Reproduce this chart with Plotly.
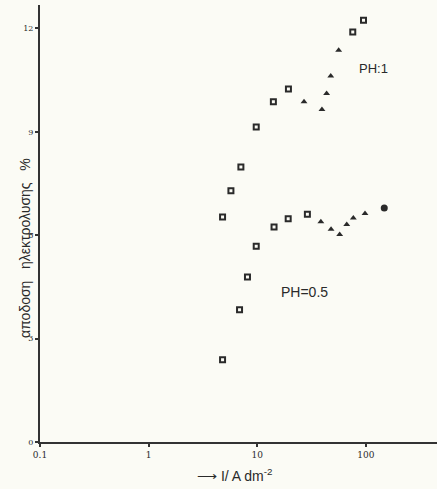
import math
import plotly.graph_objects as go

# PH=1 branch
ph1_sq_x = [4.8, 5.73, 7.08, 9.8, 14.1, 19.4]
ph1_sq_y = [6.53, 7.29, 7.98, 9.14, 9.87, 10.24]
ph1_tri_x = [27.0, 39.5, 43.6, 47.6, 56.3]
ph1_tri_y = [9.87, 9.65, 10.11, 10.62, 11.37]
ph1_sq2_x = [75.9, 95.3]
ph1_sq2_y = [11.90, 12.24]

# PH=0.5 branch
ph05_sq_x = [4.8, 6.88, 8.14, 9.8, 14.3, 19.3, 29.0]
ph05_sq_y = [2.39, 3.84, 4.79, 5.68, 6.24, 6.48, 6.61]
ph05_tri_x = [38.6, 47.9, 57.5, 66.8, 76.8, 98.4]
ph05_tri_y = [6.39, 6.17, 6.02, 6.31, 6.50, 6.63]
ph05_dot_x = [148]
ph05_dot_y = [6.79]

x_ticks = [0.1, 1, 10, 100]
x_tick_labels = ["0.1", "1", "10", "100"]
y_ticks = [0, 3, 6, 9, 12]

ink = "#2a2a2a"
fig = go.Figure()
sq = dict(symbol="square-open", size=5, color=ink, line=dict(width=2, color=ink))
tri = dict(symbol="triangle-up", size=6, color=ink)
for xs, ys, m in [(ph1_sq_x, ph1_sq_y, sq), (ph1_tri_x, ph1_tri_y, tri), (ph1_sq2_x, ph1_sq2_y, sq),
                  (ph05_sq_x, ph05_sq_y, sq), (ph05_tri_x, ph05_tri_y, tri),
                  (ph05_dot_x, ph05_dot_y, dict(symbol="circle", size=7, color=ink))]:
    fig.add_trace(go.Scatter(x=xs, y=ys, mode="markers", marker=m, showlegend=False, hoverinfo="x+y"))

fig.update_layout(
    width=437, height=489,
    margin=dict(l=40, r=0, t=5, b=47),
    paper_bgcolor="#fbfbf5", plot_bgcolor="#fbfbf5",
    font=dict(family="DejaVu Sans", color=ink),
    xaxis=dict(type="log", range=[-1, 2.656], showgrid=False, zeroline=False,
               showline=True, linewidth=2, linecolor="#333333",
               tickmode="array", tickvals=x_ticks, ticktext=x_tick_labels,
               ticks="outside", ticklen=3, tickwidth=1.5, tickcolor="#333333",
               tickfont=dict(size=9, family="DejaVu Serif")),
    yaxis=dict(range=[0, 12.68], showgrid=False, zeroline=False,
               showline=True, linewidth=2, linecolor="#333333",
               tickmode="array", tickvals=y_ticks,
               ticks="outside", ticklen=3, tickwidth=1.5, tickcolor="#333333",
               tickfont=dict(size=8, family="DejaVu Serif")),
)

fig.add_annotation(x=math.log10(119), y=10.85, xref="x", yref="y", text="PH:1",
                   showarrow=False, font=dict(size=13, family="Liberation Sans", color=ink))
fig.add_annotation(x=math.log10(27.2), y=4.36, xref="x", yref="y", text="PH=0.5",
                   showarrow=False, font=dict(size=14, family="Liberation Sans", color=ink))
fig.add_annotation(x=-0.063, y=0.444, xref="paper", yref="paper",
                   text="αποδοση   ηλεκτρολυσης   %", textangle=-90, showarrow=False,
                   font=dict(size=14, family="Liberation Sans", color=ink))
fig.add_annotation(x=0.49, y=-0.075, xref="paper", yref="paper", xanchor="center", yanchor="middle",
                   text="⟶ I/ A dm<sup>-2</sup>", showarrow=False,
                   font=dict(size=14, family="Liberation Sans", color=ink))

fig.write_html("out.html")
